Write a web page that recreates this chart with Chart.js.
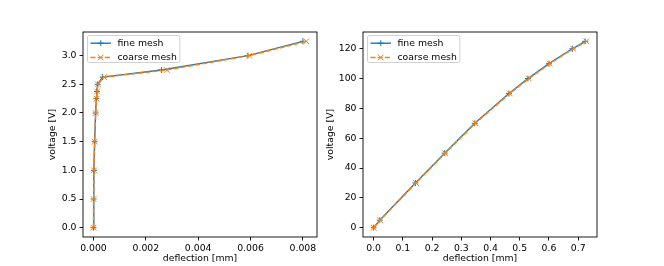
<!DOCTYPE html>
<html>
<head>
<meta charset="utf-8">
<script src="https://cdn.jsdelivr.net/npm/chart.js@4/dist/chart.umd.min.js"></script>
<style>
  body { margin: 0; background: #fff; }
  #wrap { position: relative; width: 664px; height: 266px; }
  #wrap canvas { position: absolute; left: 0; top: 0; }
</style>
</head>
<body>
<div id="wrap">
  <canvas id="left" width="664" height="266"></canvas>
  <canvas id="right" width="664" height="266"></canvas>
</div>
<script>
// left panel: low voltage range
var leftVoltage = [0, 0.5, 1.0, 1.5, 2.0, 2.25, 2.375, 2.5, 2.625, 2.75, 3.0, 3.25];
var leftFine    = [0, 0.000005, 0.00002, 0.000045, 0.00008, 0.00011, 0.00013, 0.00016, 0.00035, 0.0026, 0.0059, 0.0080];
var leftCoarse  = [0, 0.000005, 0.00002, 0.000047, 0.000085, 0.00012, 0.00014, 0.00017, 0.00040, 0.0028, 0.00595, 0.00813];
var leftXTicks  = [0, 0.002, 0.004, 0.006, 0.008];
var leftYTicks  = [0, 0.5, 1.0, 1.5, 2.0, 2.5, 3.0];

// right panel: high voltage range
var rightVoltage = [0, 5, 30, 50, 70, 90, 100, 110, 120, 125];
var rightFine    = [0, 0.021, 0.143, 0.243, 0.346, 0.463, 0.528, 0.600, 0.680, 0.724];
var rightCoarse  = [0, 0.022, 0.145, 0.245, 0.348, 0.466, 0.531, 0.603, 0.683, 0.728];
var rightXTicks  = [0, 0.1, 0.2, 0.3, 0.4, 0.5, 0.6, 0.7];
var rightYTicks  = [0, 20, 40, 60, 80, 100, 120];

var labels = ['fine mesh', 'coarse mesh'];

Chart.defaults.font.family = 'DejaVu Sans';
Chart.defaults.font.size = 9.3;
Chart.defaults.color = '#000';

function pts(xs, ys) {
  return xs.map(function (x, i) { return {x: x, y: ys[i]}; });
}

// box around the plot area plus a matplotlib-like legend in the upper left
var frame = {
  id: 'frame',
  afterDraw: function (chart) {
    var ctx = chart.ctx, a = chart.chartArea;
    ctx.save();
    ctx.strokeStyle = '#000';
    ctx.lineWidth = 0.9;
    ctx.strokeRect(a.left, a.top, a.right - a.left, a.bottom - a.top);

    ctx.font = '9.3px "DejaVu Sans"';
    var tw = Math.max.apply(null, labels.map(function (t) { return ctx.measureText(t).width; }));
    var bx = a.left + 4.5, by = a.top + 3.5, bw = 30 + tw + 3, bh = 27;
    ctx.beginPath();
    ctx.roundRect(bx, by, bw, bh, 2);
    ctx.fillStyle = 'rgba(255,255,255,0.8)';
    ctx.fill();
    ctx.strokeStyle = '#cccccc';
    ctx.lineWidth = 0.9;
    ctx.stroke();

    chart.data.datasets.forEach(function (ds, i) {
      var yy = by + 7.7 + i * 14.3;
      ctx.beginPath();
      ctx.strokeStyle = ds.borderColor;
      ctx.lineWidth = ds.borderWidth;
      ctx.setLineDash(ds.borderDash || []);
      ctx.moveTo(bx + 3, yy);
      ctx.lineTo(bx + 23.5, yy);
      ctx.stroke();
      ctx.setLineDash([]);
      ctx.lineWidth = 1;
      Chart.helpers.drawPoint(ctx, {pointStyle: ds.pointStyle, radius: ds.pointRadius, rotation: 0, borderWidth: 1}, bx + 13.25, yy);
      ctx.fillStyle = '#000';
      ctx.textBaseline = 'middle';
      ctx.fillText(ds.label, bx + 30, yy + 0.5);
    });
    ctx.restore();
  }
};

function makeChart(id, xs1, xs2, ys, xr, yr, xt, yt, xdec, ydec, pad, yw, tpad) {
  return new Chart(document.getElementById(id), {
    type: 'scatter',
    data: {
      datasets: [{
        label: labels[0],
        data: pts(xs1, ys),
        showLine: true,
        borderColor: '#1f77b4',
        backgroundColor: '#1f77b4',
        borderWidth: 1.4,
        pointStyle: 'cross',
        pointRadius: 3,
        pointBorderWidth: 1,
        order: 2
      }, {
        label: labels[1],
        data: pts(xs2, ys),
        showLine: true,
        borderColor: '#ff7f0e',
        backgroundColor: '#ff7f0e',
        borderWidth: 1.4,
        borderDash: [5, 2.2],
        pointStyle: 'crossRot',
        pointRadius: 4,
        pointBorderWidth: 1,
        order: 1
      }]
    },
    options: {
      responsive: false,
      animation: false,
      events: [],
      layout: { padding: pad },
      plugins: { legend: { display: false }, tooltip: { enabled: false } },
      scales: {
        x: {
          type: 'linear',
          min: xr[0], max: xr[1],
          afterFit: function (s) { s.height = 29; },
          afterBuildTicks: function (s) { s.ticks = xt.map(function (v) { return {value: v}; }); },
          ticks: { autoSkip: false, maxRotation: 0, padding: 2.5,
                   callback: function (v) { return v.toFixed(xdec); } },
          grid: { drawOnChartArea: false, tickLength: 3.5, tickWidth: 0.9, tickColor: '#000' },
          border: { display: false },
          title: { display: true, text: 'deflection [mm]', padding: {top: 0, bottom: 1.5} }
        },
        y: {
          type: 'linear',
          min: yr[0], max: yr[1],
          afterFit: function (s) { s.width = yw; },
          afterBuildTicks: function (s) { s.ticks = yt.map(function (v) { return {value: v}; }); },
          ticks: { autoSkip: false, padding: 3,
                   callback: function (v) { return v.toFixed(ydec); } },
          grid: { drawOnChartArea: false, tickLength: 3.5, tickWidth: 0.9, tickColor: '#000' },
          border: { display: false },
          title: { display: true, text: 'voltage [V]', padding: {top: tpad, bottom: 0} }
        }
      }
    },
    plugins: [frame]
  });
}

makeChart('left', leftFine, leftCoarse, leftVoltage,
  [-0.0004, 0.00854], [-0.1625, 3.4125], leftXTicks, leftYTicks, 3, 1,
  {left: 0, right: 347, top: 32, bottom: 0}, 83, 47);

makeChart('right', rightFine, rightCoarse, rightVoltage,
  [-0.0364, 0.7644], [-6.25, 131.25], rightXTicks, rightYTicks, 1, 0,
  {left: 300, right: 67, top: 32, bottom: 0}, 63, 25);
</script>
</body>
</html>
